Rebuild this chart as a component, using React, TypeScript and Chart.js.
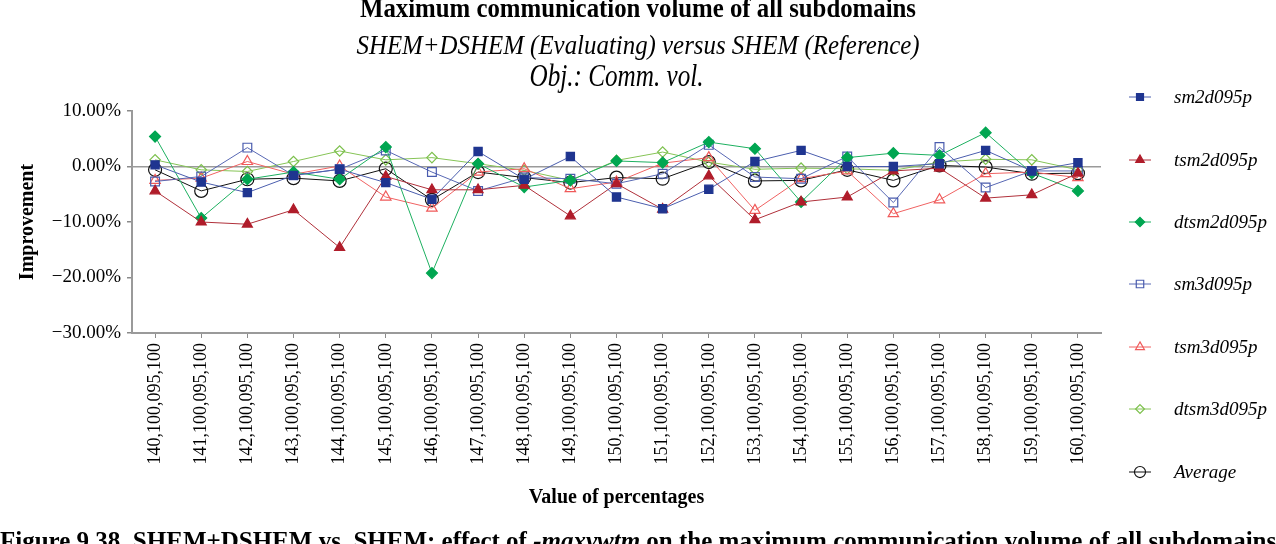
import React, { useEffect, useRef } from "react";
import { Chart, registerables } from "chart.js";

Chart.register(...registerables);

const categories = [
  "140,100,095,100", "141,100,095,100", "142,100,095,100", "143,100,095,100",
  "144,100,095,100", "145,100,095,100", "146,100,095,100", "147,100,095,100",
  "148,100,095,100", "149,100,095,100", "150,100,095,100", "151,100,095,100",
  "152,100,095,100", "153,100,095,100", "154,100,095,100", "155,100,095,100",
  "156,100,095,100", "157,100,095,100", "158,100,095,100", "159,100,095,100",
  "160,100,095,100",
];

const sm2d095p = [0.3, -2.8, -4.7, -1.6, -0.5, -2.9, -5.9, 2.7, -2.3, 1.8, -5.5, -7.6, -4.1, 0.9, 2.9, 0.0, 0.0, 0.5, 2.9, -0.8, 0.7];
const tsm2d095p = [-4.4, -10.0, -10.4, -7.8, -14.6, -1.8, -4.2, -4.2, -3.4, -8.9, -3.1, -7.7, -1.7, -9.6, -6.4, -5.5, -0.8, -0.3, -5.7, -5.1, -1.2];
const dtsm2d095p = [5.4, -9.3, -2.3, -1.0, -2.3, 3.5, -19.2, 0.5, -3.7, -2.5, 1.0, 0.7, 4.4, 3.2, -6.4, 1.6, 2.4, 2.0, 6.1, -1.2, -4.4];
const sm3d095p = [-2.7, -1.8, 3.4, -1.6, -0.5, 2.9, -1.0, -4.4, -2.0, -2.2, -3.1, -1.3, 3.9, -1.9, -2.2, 1.8, -6.5, 3.5, -3.8, -0.8, -0.8];
const tsm3d095p = [-2.5, -2.1, 0.9, -1.4, 0.1, -5.5, -7.5, -1.0, -0.4, -4.0, -2.8, 0.6, 1.6, -7.9, -2.2, -0.8, -8.5, -6.0, -1.3, -1.0, -2.0];
const dtsm3d095p = [1.2, -0.6, -0.9, 0.9, 2.8, 1.2, 1.6, 0.5, -0.7, -2.5, 1.1, 2.6, 0.8, -0.5, -0.3, -0.4, -0.7, 0.8, 1.3, 1.2, -0.6];
const average = [-0.6, -4.4, -2.3, -2.1, -2.6, -0.4, -6.0, -1.0, -2.0, -2.9, -2.0, -2.2, 0.8, -2.6, -2.5, -0.6, -2.5, 0.2, -0.1, -1.3, -1.2];

const seriesNames = ["sm2d095p", "tsm2d095p", "dtsm2d095p", "sm3d095p", "tsm3d095p", "dtsm3d095p", "Average"];

const titleLine1 = "Maximum communication volume of all subdomains";
const titleLine2 = "SHEM+DSHEM (Evaluating) versus SHEM (Reference)";
const titleLine3 = "Obj.: Comm. vol.";
const yAxisTitle = "Improvement";
const xAxisTitle = "Value of percentages";
const captionA = "Figure 9.38. SHEM+DSHEM vs. SHEM: effect of ";
const captionB = "-maxvwtm";
const captionC = " on the maximum communication volume of all subdomains";

const SERIF = '"Liberation Serif", "Times New Roman", serif';

type Style = { line: string; marker: string; fill: string; shape: string; r: number };
const styles: Style[] = [
  { line: "#4b5eae", marker: "#1f3590", fill: "#1f3590", shape: "rect", r: 5.8 },
  { line: "#b0303a", marker: "#b01c2a", fill: "#b01c2a", shape: "triangle", r: 5.8 },
  { line: "#1db060", marker: "#00a651", fill: "#00a651", shape: "rectRot", r: 5.5 },
  { line: "#5868b4", marker: "#4a5cae", fill: "rgba(0,0,0,0)", shape: "rect", r: 6.2 },
  { line: "#f06262", marker: "#f05a5a", fill: "rgba(0,0,0,0)", shape: "triangle", r: 6 },
  { line: "#86c456", marker: "#7cc04c", fill: "rgba(0,0,0,0)", shape: "rectRot", r: 5.2 },
  { line: "#111111", marker: "#111111", fill: "rgba(0,0,0,0)", shape: "circle", r: 6.5 },
];

const seriesData = [sm2d095p, tsm2d095p, dtsm2d095p, sm3d095p, tsm3d095p, dtsm3d095p, average];

function drawMarker(ctx: CanvasRenderingContext2D, shape: string, x: number, y: number, r: number, stroke: string, fill: string) {
  ctx.save();
  ctx.beginPath();
  if (shape === "rect") {
    const s = Math.SQRT1_2 * r;
    ctx.rect(x - s, y - s, 2 * s, 2 * s);
  } else if (shape === "triangle") {
    const w = (r * Math.sqrt(3)) / 2;
    ctx.moveTo(x, y - r);
    ctx.lineTo(x + w, y + r / 2);
    ctx.lineTo(x - w, y + r / 2);
    ctx.closePath();
  } else if (shape === "rectRot") {
    ctx.moveTo(x, y - r);
    ctx.lineTo(x + r, y);
    ctx.lineTo(x, y + r);
    ctx.lineTo(x - r, y);
    ctx.closePath();
  } else {
    ctx.arc(x, y, r, 0, Math.PI * 2);
  }
  ctx.fillStyle = fill;
  ctx.fill();
  ctx.strokeStyle = stroke;
  ctx.lineWidth = 1.2;
  ctx.stroke();
  ctx.restore();
}

// draws centered text, narrowed horizontally so that it takes the given width
function fillNarrow(ctx: CanvasRenderingContext2D, text: string, cx: number, y: number, font: string, width: number) {
  ctx.save();
  ctx.font = font;
  const w = ctx.measureText(text).width;
  const s = Math.min(1, width / w);
  ctx.translate(cx, y);
  ctx.scale(s, 1);
  ctx.textAlign = "center";
  ctx.fillText(text, 0, 0);
  ctx.restore();
}

const textPlugin = {
  id: "textPlugin",
  afterDraw(chart: any) {
    const ctx: CanvasRenderingContext2D = chart.ctx;
    const area = chart.chartArea;
    const plotCenter = (area.left + area.right) / 2;
    ctx.save();
    ctx.fillStyle = "#000";
    ctx.textBaseline = "alphabetic";
    fillNarrow(ctx, titleLine1, 638, 17, `bold 27px ${SERIF}`, 556);
    fillNarrow(ctx, titleLine2, 638, 54, `italic 27px ${SERIF}`, 563);
    fillNarrow(ctx, titleLine3, plotCenter, 86, `italic 32px ${SERIF}`, 174);

    ctx.textAlign = "center";
    ctx.font = `bold 20px ${SERIF}`;
    ctx.fillText(xAxisTitle, plotCenter, 503);

    ctx.save();
    ctx.translate(33, (area.top + area.bottom) / 2);
    ctx.rotate(-Math.PI / 2);
    ctx.fillText(yAxisTitle, 0, 0);
    ctx.restore();

    // caption
    ctx.textAlign = "left";
    let x = 0;
    ctx.font = `bold 25px ${SERIF}`;
    ctx.fillText(captionA, x, 549);
    x += ctx.measureText(captionA).width;
    ctx.font = `italic bold 25px ${SERIF}`;
    ctx.fillText(captionB, x, 549);
    x += ctx.measureText(captionB).width;
    ctx.font = `bold 25px ${SERIF}`;
    ctx.fillText(captionC, x, 549);

    // legend
    const legendY = [97, 160, 222, 284, 347, 409, 472];
    ctx.font = `italic 19px ${SERIF}`;
    ctx.textBaseline = "middle";
    seriesNames.forEach((name, i) => {
      const st = styles[i];
      const y = legendY[i];
      ctx.beginPath();
      ctx.moveTo(1129, y);
      ctx.lineTo(1151, y);
      ctx.strokeStyle = st.line;
      ctx.lineWidth = 1;
      ctx.stroke();
      drawMarker(ctx, st.shape, 1140, y, st.r * 0.85, st.marker, st.fill);
      ctx.fillStyle = "#000";
      ctx.fillText(name, 1174, y + 1);
    });
    ctx.restore();
  },
};

export default function App() {
  const ref = useRef<HTMLCanvasElement | null>(null);

  useEffect(() => {
    if (!ref.current) return;
    const chart = new Chart(ref.current, {
      type: "line",
      data: {
        labels: categories,
        datasets: seriesNames.map((name, i) => ({
          label: name,
          data: seriesData[i],
          borderColor: styles[i].line,
          borderWidth: 1,
          pointStyle: styles[i].shape as any,
          pointRadius: styles[i].r,
          pointBorderColor: styles[i].marker,
          pointBackgroundColor: styles[i].fill,
          pointBorderWidth: 1.2,
          tension: 0,
          fill: false,
        })),
      },
      options: {
        responsive: false,
        animation: false,
        layout: { padding: { top: 111, right: 175, left: 0, bottom: 0 } },
        plugins: {
          legend: { display: false },
          title: { display: false },
          tooltip: { enabled: false },
        },
        scales: {
          x: {
            type: "category",
            offset: true,
            grid: {
              display: true,
              drawOnChartArea: false,
              offset: false,
              tickLength: 5,
              color: "#8a8a8a",
            },
            border: { display: true, color: "#9a9a9a", width: 2 },
            ticks: {
              maxRotation: 90,
              minRotation: 90,
              autoSkip: false,
              padding: 5,
              color: "#000",
              font: { family: SERIF, size: 18 },
            },
            afterFit(scale: any) {
              scale.height = 544 - 333;
            },
          },
          y: {
            min: -30,
            max: 10,
            ticks: {
              stepSize: 10,
              padding: 6,
              color: "#000",
              font: { family: SERIF, size: 19 },
              callback: (v: any) => (Number(v) < 0 ? "\u2212" : "") + Math.abs(Number(v)).toFixed(2) + "%",
            },
            grid: {
              display: true,
              drawOnChartArea: true,
              tickLength: 5,
              color: (c: any) => (c.tick && c.tick.value === 0 ? "#9a9a9a" : "rgba(0,0,0,0)"),
              tickColor: "#8a8a8a",
              lineWidth: 1.5,
            },
            border: { display: true, color: "#9a9a9a", width: 2 },
            afterFit(scale: any) {
              scale.width = 132;
            },
          },
        },
      },
      plugins: [textPlugin],
    });
    return () => chart.destroy();
  }, []);

  return (
    <div style={{ position: "absolute", left: 0, top: 0, width: 1276, height: 544, background: "#fff" }}>
      <canvas ref={ref} width={1276} height={544} style={{ display: "block" }} />
    </div>
  );
}
